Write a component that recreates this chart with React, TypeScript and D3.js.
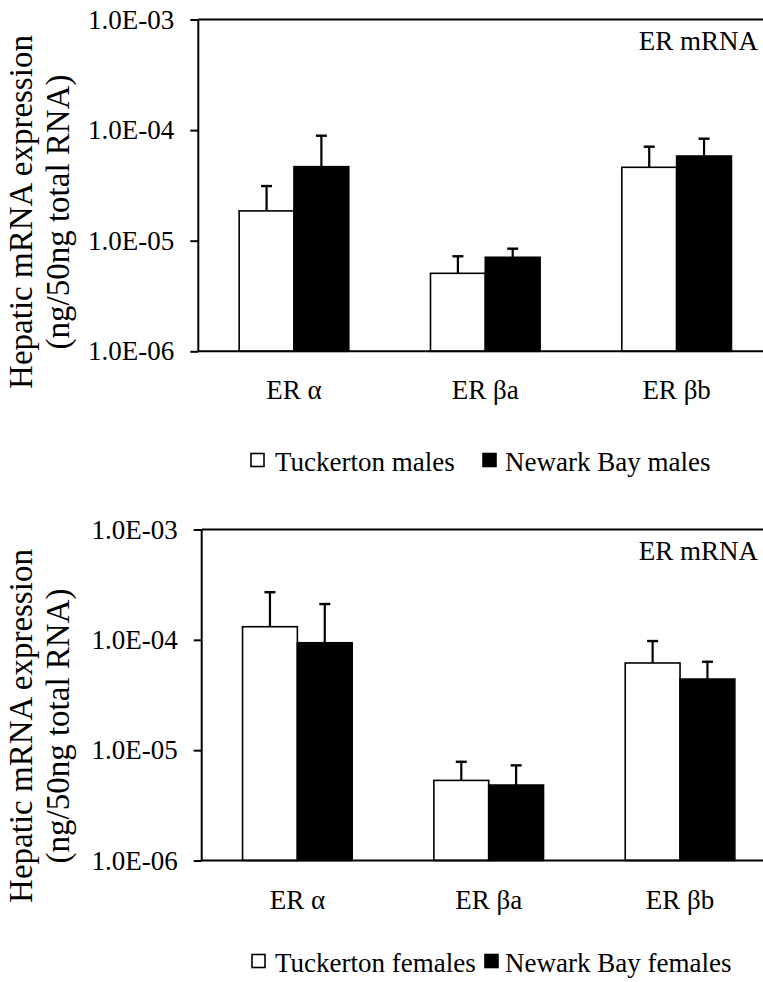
import React, { useEffect, useRef } from 'react'
import * as d3 from 'd3'

// categories and tick labels
const categories = ['ER α', 'ER βa', 'ER βb']
const tickValues = [1e-6, 1e-5, 1e-4, 1e-3]

// males (top panel)
const tuckertonMales = [1.86e-5, 5.07e-6, 4.61e-5]
const tuckertonMalesSd = [1.26e-5, 2.16e-6, 2.47e-5]
const newarkMales = [4.67e-5, 7.08e-6, 5.83e-5]
const newarkMalesSd = [4.23e-5, 1.39e-6, 2.53e-5]

// females (bottom panel)
const tuckertonFemales = [1.315e-4, 5.32e-6, 6.17e-5]
const tuckertonFemalesSd = [1.385e-4, 2.53e-6, 3.58e-5]
const newarkFemales = [9.41e-5, 4.83e-6, 4.41e-5]
const newarkFemalesSd = [1.17e-4, 2.45e-6, 1.92e-5]

const FONT = '"Liberation Serif", "Times New Roman", serif'

const panels = [
	{
		x0: 198.3,
		top: 19.5,
		bottom: 351.3,
		catY: 399,
		legendY: 471,
		titleY: 212,
		noteY: 50,
		legend: ['Tuckerton males', 'Newark Bay males'],
		legendX: [251, 275, 483, 505],
		series: [
			{ values: tuckertonMales, sd: tuckertonMalesSd, fill: '#fff' },
			{ values: newarkMales, sd: newarkMalesSd, fill: '#000' },
		],
	},
	{
		x0: 201.7,
		top: 529.5,
		bottom: 860.5,
		catY: 909,
		legendY: 972,
		titleY: 726,
		noteY: 560,
		legend: ['Tuckerton females', 'Newark Bay females'],
		legendX: [252, 275, 485, 505],
		series: [
			{ values: tuckertonFemales, sd: tuckertonFemalesSd, fill: '#fff' },
			{ values: newarkFemales, sd: newarkFemalesSd, fill: '#000' },
		],
	},
]

export default function App() {
	const ref = useRef<SVGSVGElement>(null)

	useEffect(() => {
		const svg = d3.select(ref.current)
		svg.selectAll('*').remove()

		panels.forEach(p => {
			const g = svg.append('g')
			const x = d3
				.scaleBand()
				.domain(categories)
				.range([p.x0, p.x0 + 574])
				.paddingInner(0.427)
				.paddingOuter(0.2135)
			const xs = d3.scaleBand().domain(['0', '1']).range([0, x.bandwidth()])
			const y = d3.scaleLog().domain([1e-6, 1e-3]).range([p.bottom, p.top])

			// bars
			p.series.forEach((s, si) => {
				const bx = (c: string) => (x(c) as number) + (xs(String(si)) as number)
				categories.forEach((c, i) => {
					const v = s.values[i]
					g.append('rect')
						.attr('x', bx(c))
						.attr('y', y(v))
						.attr('width', xs.bandwidth())
						.attr('height', y(1e-6) - y(v))
						.attr('fill', s.fill)
						.attr('stroke', '#000')
						.attr('stroke-width', 1.6)
					const cx = bx(c) + xs.bandwidth() / 2
					const hi = y(v + s.sd[i])
					g.append('line')
						.attr('x1', cx).attr('x2', cx)
						.attr('y1', y(v)).attr('y2', hi)
						.attr('stroke', '#000').attr('stroke-width', 2.2)
					g.append('line')
						.attr('x1', cx - 5.5).attr('x2', cx + 5.5)
						.attr('y1', hi).attr('y2', hi)
						.attr('stroke', '#000').attr('stroke-width', 2.4)
				})
			})

			// frame lines: top and bottom
			;[p.top, p.bottom].forEach(yy => {
				g.append('line')
					.attr('x1', p.x0).attr('x2', 763)
					.attr('y1', yy).attr('y2', yy)
					.attr('stroke', '#000').attr('stroke-width', 2)
			})

			// y axis
			const yAxis = d3
				.axisLeft(y)
				.tickValues(tickValues)
				.tickSize(8)
				.tickPadding(16)
				.tickFormat(d => {
					const e = Math.round(Math.log10(+d))
					return '1.0E-' + String(-e).padStart(2, '0')
				})
			const ga = g.append('g').attr('transform', `translate(${p.x0},0)`).call(yAxis)
			ga.select('.domain').attr('stroke-width', 2).attr('d', `M0,${p.top}V${p.bottom}`)
			ga.selectAll('.tick line').attr('stroke-width', 2)
			ga.selectAll('.tick text')
				.attr('font-family', FONT)
				.attr('font-size', 27)
				.attr('fill', '#000')

			// category labels
			categories.forEach(c => {
				g.append('text')
					.attr('x', (x(c) as number) + x.bandwidth() / 2)
					.attr('y', p.catY)
					.attr('text-anchor', 'middle')
					.attr('font-family', FONT)
					.attr('font-size', 27)
					.text(c)
			})

			// note in the corner
			g.append('text')
				.attr('x', 758)
				.attr('y', p.noteY)
				.attr('text-anchor', 'end')
				.attr('font-family', FONT)
				.attr('font-size', 27)
				.text('ER mRNA')

			// y title
			const t = g
				.append('text')
				.attr('transform', `translate(0,${p.titleY}) rotate(-90)`)
				.attr('text-anchor', 'middle')
				.attr('font-family', FONT)
				.attr('font-size', 33)
			t.append('tspan').attr('x', 0).attr('y', 32).text('Hepatic mRNA expression')
			t.append('tspan').attr('x', 0).attr('y', 69).text('(ng/50ng total RNA)')

			// legend
			const [sq1, tx1, sq2, tx2] = p.legendX
			g.append('rect')
				.attr('x', sq1).attr('y', p.legendY - 17.5)
				.attr('width', 13).attr('height', 13)
				.attr('fill', '#fff').attr('stroke', '#000').attr('stroke-width', 1.6)
			g.append('text')
				.attr('x', tx1).attr('y', p.legendY)
				.attr('font-family', FONT).attr('font-size', 27)
				.text(p.legend[0])
			g.append('rect')
				.attr('x', sq2).attr('y', p.legendY - 17.5)
				.attr('width', 13).attr('height', 13)
				.attr('fill', '#000').attr('stroke', '#000').attr('stroke-width', 1.6)
			g.append('text')
				.attr('x', tx2).attr('y', p.legendY)
				.attr('font-family', FONT).attr('font-size', 27)
				.text(p.legend[1])
		})
	}, [])

	return (
		<svg
			ref={ref}
			width={763}
			height={982}
			style={{ position: 'absolute', left: 0, top: 0, background: '#fff' }}
		/>
	)
}
